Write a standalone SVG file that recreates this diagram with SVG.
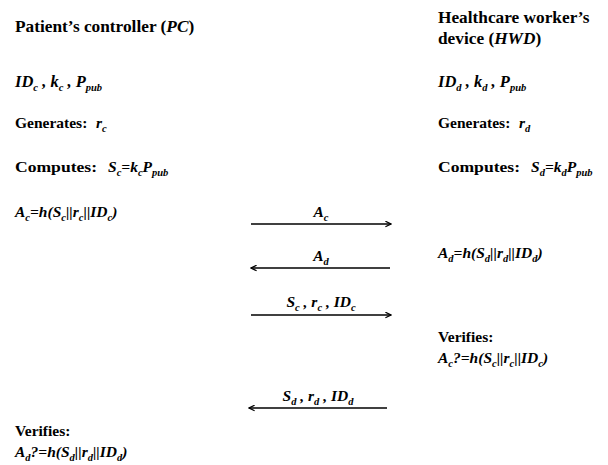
<svg xmlns="http://www.w3.org/2000/svg" width="608" height="465" viewBox="0 0 608 465">
<style>
text{font-family:'Liberation Serif','Times New Roman',Times,serif;font-weight:700;font-size:15.5px;fill:#000}
.h{font-size:17.3px}
.i{font-style:italic}
.s{font-size:10.5px;font-style:italic}
.lbl{text-anchor:middle;font-style:italic}
.conn{stroke:#000;stroke-width:1.6;fill:none}
</style>
<defs>
<marker id="ah" viewBox="0 0 10 10" refX="9" refY="5" markerWidth="7" markerHeight="7" orient="auto-start-reverse" markerUnits="userSpaceOnUse">
<path d="M1,1 L9,5 L1,9" fill="none" stroke="#000" stroke-width="1.8"/>
</marker>
</defs>
<rect width="608" height="465" fill="#fff"/>

<g id="pc">
<text class="h" x="15" y="32">Patient’s controller (<tspan class="i">PC</tspan>)</text>
<text class="i" x="15" y="87" style="font-size:16.5px">ID<tspan class="s" dy="4">c</tspan><tspan dy="-4"> , k</tspan><tspan class="s" dy="4">c</tspan><tspan dy="-4"> , P</tspan><tspan class="s" dy="4">pub</tspan></text>
<text x="15" y="128">Generates:<tspan class="i" x="96">r</tspan><tspan class="s" dy="4">c</tspan></text>
<text x="15" y="172"><tspan textLength="82" lengthAdjust="spacingAndGlyphs">Computes:</tspan><tspan class="i" x="108">S</tspan><tspan class="s" dy="4">c</tspan><tspan class="i" dy="-4">=k</tspan><tspan class="s" dy="4">c</tspan><tspan class="i" dy="-4">P</tspan><tspan class="s" dy="4">pub</tspan></text>
<text class="i" x="15" y="217">A<tspan class="s" dy="4">c</tspan><tspan dy="-4">=h(S</tspan><tspan class="s" dy="4">c</tspan><tspan dy="-4">||r</tspan><tspan class="s" dy="4">c</tspan><tspan dy="-4">||ID</tspan><tspan class="s" dy="4">c</tspan><tspan dy="-4">)</tspan></text>
<text x="15" y="436">Verifies:</text>
<text class="i" x="15" y="457">A<tspan class="s" dy="4">d</tspan><tspan dy="-4">?=h(S</tspan><tspan class="s" dy="4">d</tspan><tspan dy="-4">||r</tspan><tspan class="s" dy="4">d</tspan><tspan dy="-4">||ID</tspan><tspan class="s" dy="4">d</tspan><tspan dy="-4">)</tspan></text>
</g>

<g id="hwd">
<text class="h" x="438" y="23">Healthcare worker’s</text>
<text class="h" x="438" y="44">device (<tspan class="i">HWD</tspan>)</text>
<text class="i" x="438" y="87" style="font-size:16.5px">ID<tspan class="s" dy="4">d</tspan><tspan dy="-4"> , k</tspan><tspan class="s" dy="4">d</tspan><tspan dy="-4"> , P</tspan><tspan class="s" dy="4">pub</tspan></text>
<text x="438" y="128">Generates:<tspan class="i" x="519">r</tspan><tspan class="s" dy="4">d</tspan></text>
<text x="438" y="172"><tspan textLength="82" lengthAdjust="spacingAndGlyphs">Computes:</tspan><tspan class="i" x="531">S</tspan><tspan class="s" dy="4">d</tspan><tspan class="i" dy="-4">=k</tspan><tspan class="s" dy="4">d</tspan><tspan class="i" dy="-4">P</tspan><tspan class="s" dy="4">pub</tspan></text>
<text class="i" x="438" y="258">A<tspan class="s" dy="4">d</tspan><tspan dy="-4">=h(S</tspan><tspan class="s" dy="4">d</tspan><tspan dy="-4">||r</tspan><tspan class="s" dy="4">d</tspan><tspan dy="-4">||ID</tspan><tspan class="s" dy="4">d</tspan><tspan dy="-4">)</tspan></text>
<text x="438" y="342">Verifies:</text>
<text class="i" x="438" y="363">A<tspan class="s" dy="4">c</tspan><tspan dy="-4">?=h(S</tspan><tspan class="s" dy="4">c</tspan><tspan dy="-4">||r</tspan><tspan class="s" dy="4">c</tspan><tspan dy="-4">||ID</tspan><tspan class="s" dy="4">c</tspan><tspan dy="-4">)</tspan></text>
</g>

<g id="connectors">
<line class="conn" x1="251" y1="224" x2="391" y2="224" marker-end="url(#ah)"/>
<text class="lbl" x="321" y="217">A<tspan class="s" dy="4">c</tspan></text>
<line class="conn" x1="390" y1="268" x2="251" y2="268" marker-end="url(#ah)"/>
<text class="lbl" x="321" y="261">A<tspan class="s" dy="4">d</tspan></text>
<line class="conn" x1="251" y1="315" x2="391" y2="315" marker-end="url(#ah)"/>
<text class="lbl" x="321" y="307">S<tspan class="s" dy="4">c</tspan><tspan dy="-4"> , r</tspan><tspan class="s" dy="4">c</tspan><tspan dy="-4"> , ID</tspan><tspan class="s" dy="4">c</tspan></text>
<line class="conn" x1="387" y1="408" x2="249" y2="408" marker-end="url(#ah)"/>
<text class="lbl" x="318" y="401">S<tspan class="s" dy="4">d</tspan><tspan dy="-4"> , r</tspan><tspan class="s" dy="4">d</tspan><tspan dy="-4"> , ID</tspan><tspan class="s" dy="4">d</tspan></text>
</g>
</svg>
